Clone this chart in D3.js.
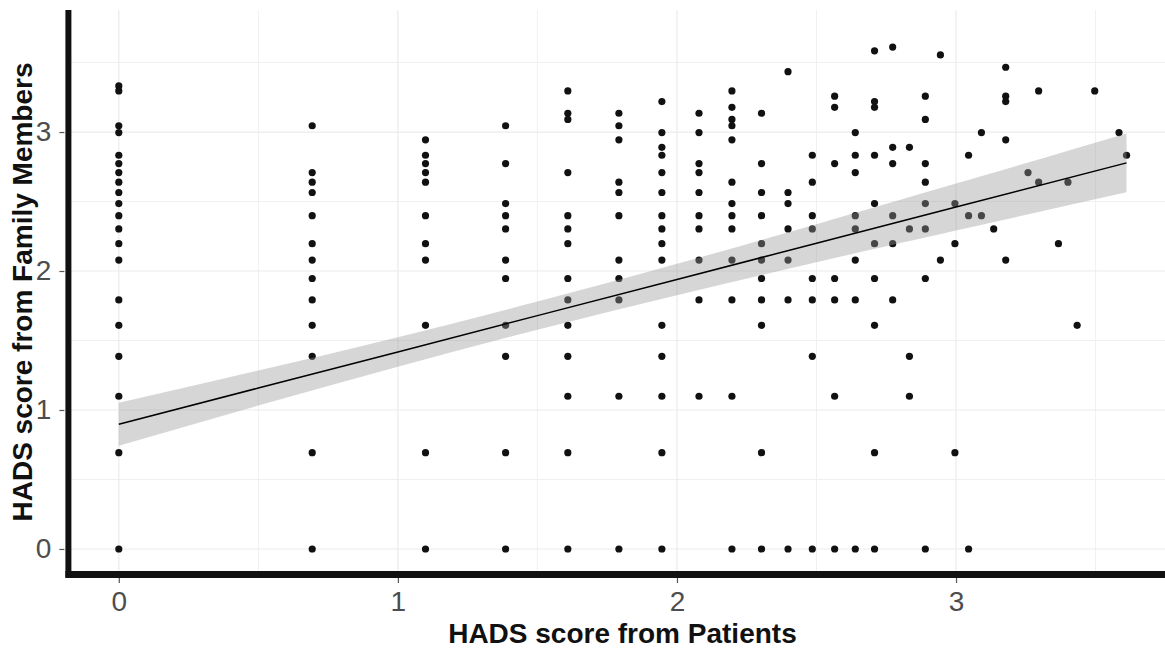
<!DOCTYPE html>
<html>
<head>
<meta charset="utf-8">
<script src="https://cdn.jsdelivr.net/npm/d3@7"></script>
<style>
  html, body { margin: 0; padding: 0; background: #ffffff; }
  svg { display: block; }
  text { font-family: "Liberation Sans", Arial, sans-serif; }
</style>
</head>
<body>
<svg id="chart" width="1165" height="650"></svg>
<script>
// Patient HADS (log scale) columns and the family HADS values observed at each
const patientLevels = [0, 0.693, 1.099, 1.386, 1.609, 1.792, 1.946, 2.079, 2.197, 2.303,
  2.398, 2.485, 2.565, 2.639, 2.708, 2.773, 2.833, 2.890, 2.944, 2.996,
  3.045, 3.091, 3.135, 3.178, 3.258, 3.296, 3.367, 3.401, 3.434, 3.497, 3.584, 3.611];
const familyByLevel = [
  [3.332, 3.296, 3.045, 2.996, 2.833, 2.773, 2.708, 2.639, 2.565, 2.485, 2.398, 2.303, 2.197, 2.079, 1.792, 1.609, 1.386, 1.099, 0.693, 0],
  [3.045, 2.708, 2.639, 2.565, 2.398, 2.197, 2.079, 1.946, 1.792, 1.609, 1.386, 0.693, 0],
  [2.944, 2.833, 2.773, 2.708, 2.639, 2.398, 2.197, 2.079, 1.609, 0.693, 0],
  [3.045, 2.773, 2.485, 2.398, 2.303, 2.079, 1.946, 1.609, 1.386, 0.693, 0],
  [3.296, 3.135, 3.091, 2.708, 2.398, 2.303, 2.197, 1.946, 1.792, 1.609, 1.386, 1.099, 0.693, 0],
  [3.135, 3.045, 2.944, 2.639, 2.565, 2.398, 2.079, 1.946, 1.792, 1.099, 0],
  [3.219, 2.996, 2.890, 2.833, 2.708, 2.565, 2.398, 2.303, 2.197, 2.079, 1.609, 1.386, 1.099, 0.693, 0],
  [3.135, 2.996, 2.773, 2.708, 2.565, 2.398, 2.303, 2.079, 1.792, 1.099],
  [3.296, 3.178, 3.091, 3.045, 2.944, 2.639, 2.485, 2.398, 2.303, 2.079, 1.792, 1.099, 0],
  [3.135, 2.773, 2.565, 2.398, 2.197, 2.079, 1.946, 1.792, 1.609, 0.693, 0],
  [3.434, 2.565, 2.485, 2.303, 2.079, 1.792, 0],
  [2.833, 2.639, 2.398, 2.303, 1.946, 1.792, 1.386, 0],
  [3.258, 3.178, 2.773, 1.946, 1.792, 1.099, 0],
  [2.996, 2.833, 2.708, 2.398, 2.303, 2.079, 1.792, 0],
  [3.584, 3.219, 3.178, 2.833, 2.485, 2.197, 1.946, 1.609, 0.693, 0],
  [3.611, 2.890, 2.773, 2.398, 2.197, 1.792],
  [2.890, 2.303, 1.386, 1.099],
  [3.258, 3.091, 2.773, 2.639, 2.485, 2.303, 1.946, 0],
  [3.555, 2.079],
  [2.485, 2.197, 0.693],
  [2.833, 2.398, 0],
  [2.996, 2.398],
  [2.303],
  [3.466, 3.258, 3.219, 2.944, 2.079],
  [2.708],
  [3.296, 2.639],
  [2.197],
  [2.639],
  [1.609],
  [3.296],
  [2.996],
  [2.833]
];

// Linear fit with 95% confidence band
const smoothX   = [0,     0.5,   1,     1.5,   2,     2.5,   3,     3.611];
const smoothFit = [0.897, 1.158, 1.418, 1.679, 1.939, 2.200, 2.460, 2.778];
const smoothLo  = [0.742, 1.032, 1.312, 1.578, 1.826, 2.063, 2.291, 2.566];
const smoothHi  = [1.052, 1.284, 1.524, 1.780, 2.052, 2.337, 2.629, 2.990];

const xTicks = [0, 1, 2, 3];
const yTicks = [0, 1, 2, 3];
const xMinor = [0.5, 1.5, 2.5, 3.5];
const yMinor = [0.5, 1.5, 2.5, 3.5];
const xTitle = "HADS score from Patients";
const yTitle = "HADS score from Family Members";

(function () {
const points = [];
patientLevels.forEach((px, i) => familyByLevel[i].forEach(fy => points.push({x: px, y: fy})));
const band = smoothX.map((xv, i) => ({x: xv, fit: smoothFit[i], lo: smoothLo[i], hi: smoothHi[i]}));

const svg = d3.select("#chart");
const pL = 68.4, pR = 1176.5, pT = 10, pB = 574;
const x = d3.scaleLinear().domain([-0.1806, 3.79]).range([pL, pR]);
const y = d3.scaleLinear().domain([-0.18, 3.878]).range([pB, pT]);

const g = svg.append("g");

// grid
g.selectAll(".gxm").data(xMinor).join("line")
  .attr("x1", d => x(d)).attr("x2", d => x(d)).attr("y1", pT).attr("y2", pB)
  .attr("stroke", "#f0f0f0").attr("stroke-width", 1);
g.selectAll(".gym").data(yMinor).join("line")
  .attr("y1", d => y(d)).attr("y2", d => y(d)).attr("x1", pL).attr("x2", pR)
  .attr("stroke", "#f0f0f0").attr("stroke-width", 1);
g.selectAll(".gx").data(xTicks).join("line")
  .attr("x1", d => x(d)).attr("x2", d => x(d)).attr("y1", pT).attr("y2", pB)
  .attr("stroke", "#ebebeb").attr("stroke-width", 1.2);
g.selectAll(".gy").data(yTicks).join("line")
  .attr("y1", d => y(d)).attr("y2", d => y(d)).attr("x1", pL).attr("x2", pR)
  .attr("stroke", "#ebebeb").attr("stroke-width", 1.2);

// points
g.selectAll(".pt").data(points).join("circle")
  .attr("cx", d => x(d.x)).attr("cy", d => y(d.y)).attr("r", 3.6)
  .attr("fill", "#111111");

// confidence band
const area = d3.area().curve(d3.curveNatural)
  .x(d => x(d.x)).y0(d => y(d.lo)).y1(d => y(d.hi));
g.append("path").datum(band).attr("d", area)
  .attr("fill", "#999999").attr("fill-opacity", 0.4);
const line = d3.line().x(d => x(d.x)).y(d => y(d.fit));
g.append("path").datum(band).attr("d", line)
  .attr("fill", "none").attr("stroke", "#000000").attr("stroke-width", 1.5);

// axes
const xAxis = d3.axisBottom(x).tickValues(xTicks).tickSize(5).tickPadding(8).tickFormat(d3.format("d"));
const yAxis = d3.axisLeft(y).tickValues(yTicks).tickSize(5).tickPadding(8).tickFormat(d3.format("d"));
const gx = svg.append("g").attr("transform", `translate(0,${pB + 4})`).call(xAxis);
const gy = svg.append("g").attr("transform", `translate(${pL - 4},0)`).call(yAxis);
[gx, gy].forEach(a => {
  a.select(".domain").remove();
  a.selectAll(".tick line").attr("stroke", "#555555").attr("stroke-width", 1.2);
  a.selectAll(".tick text").attr("fill", "#4d4d4d").style("font-size", "28px")
    .style("font-family", "'Liberation Sans', Arial, sans-serif");
});

// thick axis lines
svg.append("line").attr("x1", pL).attr("x2", pL).attr("y1", pT).attr("y2", pB + 3.5)
  .attr("stroke", "#111").attr("stroke-width", 6);
svg.append("line").attr("x1", pL - 3).attr("x2", 1165).attr("y1", pB + 0.5).attr("y2", pB + 0.5)
  .attr("stroke", "#111").attr("stroke-width", 7);

// titles
svg.append("text").attr("x", (pL + pR) / 2).attr("y", 643)
  .attr("text-anchor", "middle").style("font-size", "28px").style("font-weight", "bold")
  .attr("fill", "#111").text(xTitle);
svg.append("text").attr("transform", `translate(32,${(pT + pB) / 2}) rotate(-90)`)
  .attr("text-anchor", "middle").style("font-size", "28px").style("font-weight", "bold")
  .attr("fill", "#111").text(yTitle);
})();
</script>
</body>
</html>
